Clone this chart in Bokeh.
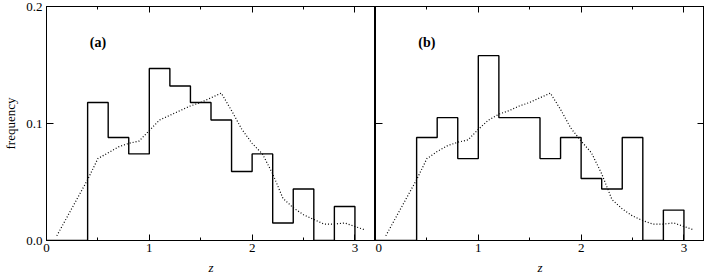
from bokeh.plotting import figure
from bokeh.layouts import row
from bokeh.models import (Range1d, LinearAxis, FixedTicker, Label,
                          PrintfTickFormatter, CustomLabelingPolicy)
from bokeh.embed import file_html
from bokeh.resources import INLINE

# ---------------- data ----------------
bin_left = [0.4, 0.6, 0.8, 1.0, 1.2, 1.4, 1.6, 1.8, 2.0, 2.2, 2.4, 2.6, 2.8]
bin_width = 0.2
freq_a = [0.118, 0.088, 0.074, 0.147, 0.132, 0.118, 0.103, 0.059, 0.074, 0.015, 0.044, 0.0, 0.029]
freq_b = [0.088, 0.105, 0.070, 0.158, 0.105, 0.105, 0.070, 0.088, 0.053, 0.044, 0.088, 0.0, 0.026]

curve_z = [0.1, 0.2, 0.3, 0.4, 0.5, 0.6, 0.7, 0.8, 0.9, 1.0,
           1.1, 1.2, 1.3, 1.4, 1.5, 1.6, 1.7, 1.8, 1.9, 2.0,
           2.1, 2.2, 2.3, 2.4, 2.5, 2.6, 2.7, 2.8, 2.9, 3.0, 3.1]
curve_a = [0.004, 0.020, 0.036, 0.052, 0.070, 0.075, 0.080, 0.083, 0.085, 0.094,
           0.103, 0.107, 0.111, 0.115, 0.118, 0.122, 0.126, 0.111, 0.095, 0.083,
           0.074, 0.057, 0.036, 0.028, 0.022, 0.018, 0.014, 0.014, 0.015, 0.012, 0.009]
curve_b = [0.004, 0.020, 0.036, 0.052, 0.070, 0.076, 0.081, 0.084, 0.086, 0.095,
           0.103, 0.108, 0.111, 0.115, 0.118, 0.122, 0.126, 0.112, 0.096, 0.085,
           0.075, 0.057, 0.035, 0.027, 0.021, 0.017, 0.014, 0.014, 0.015, 0.012, 0.009]

x_ticks = [0, 1, 2, 3]
x_minor = [0.5, 1.5, 2.5]
y_ticks = [0.0, 0.1, 0.2]
panel_tags = ["(a)", "(b)"]

FONT = "Liberation Serif"

HIDE_LABELS = """
const ks = Array.from(indices.ones());
for (const k of ks) { indices.unset(k); }
return indices;
"""


def style_x(ax, labels=True):
    ax.ticker = FixedTicker(ticks=x_ticks, minor_ticks=x_minor)
    ax.major_tick_in = 6
    ax.major_tick_out = 0
    ax.minor_tick_in = 3
    ax.minor_tick_out = 0
    ax.axis_line_color = "black"
    ax.major_tick_line_color = "black"
    ax.minor_tick_line_color = "black"
    if labels:
        ax.major_label_text_font = FONT
        ax.major_label_text_font_size = "13px"
        ax.major_label_text_color = "black"
        ax.major_label_standoff = 3
        ax.axis_label = "z"
        ax.axis_label_text_font = FONT
        ax.axis_label_text_font_style = "italic"
        ax.axis_label_text_font_size = "13px"
        ax.axis_label_text_color = "black"
        ax.axis_label_standoff = 5
    else:
        ax.major_label_text_font_size = "0px"
        ax.major_label_standoff = 0
        ax.major_label_policy = CustomLabelingPolicy(code=HIDE_LABELS)


def style_y(ax, labels=True):
    ax.ticker = FixedTicker(ticks=y_ticks, minor_ticks=[])
    ax.major_tick_in = 7
    ax.major_tick_out = 0
    ax.minor_tick_in = 0
    ax.minor_tick_out = 0
    ax.axis_line_color = "black"
    ax.major_tick_line_color = "black"
    if labels:
        ax.formatter = PrintfTickFormatter(format="%.1f")
        ax.major_label_text_font = FONT
        ax.major_label_text_font_size = "13px"
        ax.major_label_text_color = "black"
        ax.major_label_standoff = 4
        ax.axis_label = "frequency"
        ax.axis_label_text_font = FONT
        ax.axis_label_text_font_style = "normal"
        ax.axis_label_text_font_size = "13px"
        ax.axis_label_text_color = "black"
        ax.axis_label_standoff = 5
    else:
        ax.major_label_text_font_size = "0px"
        ax.major_label_standoff = 0
        ax.major_label_policy = CustomLabelingPolicy(code=HIDE_LABELS)


def make_panel(freq, curve, tag, first):
    p = figure(frame_width=329, frame_height=234,
               x_range=Range1d(0, 3.2), y_range=Range1d(0, 0.2),
               output_backend="svg", toolbar_location=None,
               x_axis_location=None, y_axis_location=None,
               min_border_top=6, min_border_bottom=0,
               min_border_left=0, min_border_right=0,
               background_fill_color="white", border_fill_color="white")
    p.grid.visible = False
    p.outline_line_color = "black"
    p.outline_line_width = 1

    below = LinearAxis()
    style_x(below, labels=True)
    p.add_layout(below, "below")
    above = LinearAxis()
    style_x(above, labels=False)
    p.add_layout(above, "above")

    left = LinearAxis()
    style_y(left, labels=first)
    p.add_layout(left, "left")
    if not first:
        right = LinearAxis()
        style_y(right, labels=False)
        p.add_layout(right, "right")

    xs = [0.0] + bin_left + [bin_left[-1] + bin_width]
    ys = [0.0] + freq + [0.0]
    p.step(xs, ys, mode="after", line_color="black", line_width=1.4)
    p.line(curve_z, curve, line_color="black", line_width=1.2, line_dash="1 2")

    p.add_layout(Label(x=0.5, y=0.169, text=tag, text_align="center",
                       text_baseline="middle", text_font=FONT,
                       text_font_style="bold", text_font_size="14px",
                       text_color="black"))
    return p


p1 = make_panel(freq_a, curve_a, panel_tags[0], True)
p2 = make_panel(freq_b, curve_b, panel_tags[1], False)

layout = row(p1, p2)
open("out.html", "w").write(file_html(layout, INLINE))
